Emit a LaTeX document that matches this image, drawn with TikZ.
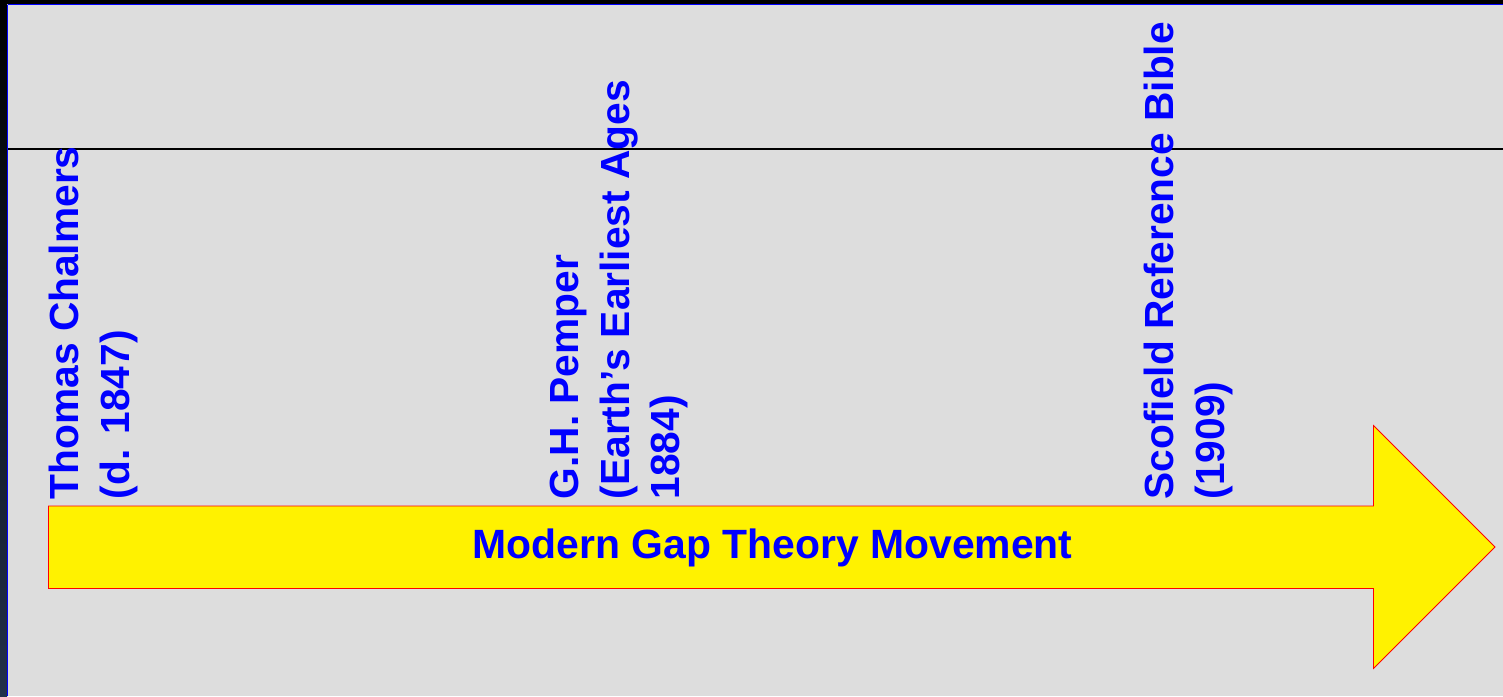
\documentclass[tikz,border=0pt]{standalone}
\usepackage{fontspec}
\setmainfont{Liberation Sans}
\definecolor{bg}{HTML}{DDDDDD}
\definecolor{txt}{HTML}{0000FF}
\definecolor{navy}{HTML}{22304A}
\begin{document}
\begin{tikzpicture}[x=1pt,y=-1pt,
  lbl/.style={text=txt,font=\fontsize{40.7}{50.5}\selectfont\bfseries,rotate=90,anchor=north west,align=left,inner sep=0pt}]
\useasboundingbox (0,0) rectangle (1503,696);
\fill[bg] (0,0) rectangle (1503,696);
% frame
\shade[top color=black,bottom color=navy] (0,0) rectangle (7,696);
\fill[black] (0,0) rectangle (1503,3.5);
\draw[blue,line width=1.2pt] (7.5,4.5) -- (1503,4.5);
\draw[blue,line width=1.2pt] (7.5,4.5) -- (7.5,696);
% horizontal rule
\draw[black,line width=1.3pt] (8,149) -- (1503,149);
% arrow
\draw[draw=red,fill=yellow,line width=0.8pt] (48.5,506) -- (1373.5,506) -- (1373.5,425.5) -- (1495,547) -- (1373.5,668.5) -- (1373.5,588.5) -- (48.5,588.5) -- cycle;
\node[text=txt,font=\fontsize{40.9}{50}\selectfont\bfseries,inner sep=0pt] (mv) at (772.5,548) {Modern Gap Theory Movement};
% labels
\node[lbl] (tc) at (49,499.5) {Thomas Chalmers\\(d. 1847)};
\node[lbl] (gh) at (550,499.5) {G.H. Pemper\\(Earth’s Earliest Ages\\1884)};
\node[lbl] (sc) at (1144,499.5) {Scofield Reference Bible\\(1909)};
\end{tikzpicture}
\end{document}
